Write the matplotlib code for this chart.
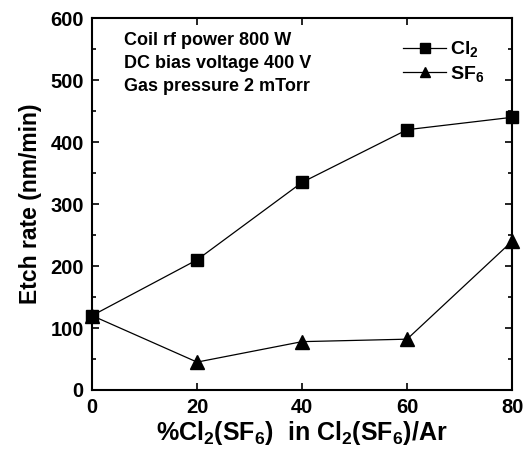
import matplotlib
matplotlib.use("Agg")
import matplotlib.pyplot as plt
from matplotlib.ticker import MultipleLocator

plt.rcParams['font.family'] = ['Liberation Sans', 'DejaVu Sans']
plt.rcParams['font.weight'] = 'bold'
plt.rcParams['axes.labelweight'] = 'bold'
plt.rcParams['mathtext.fontset'] = 'custom'
plt.rcParams['mathtext.rm'] = 'Liberation Sans:bold'
plt.rcParams['mathtext.it'] = 'Liberation Sans:bold'
plt.rcParams['mathtext.bf'] = 'Liberation Sans:bold'

# gas fraction (%)
fraction = [0, 20, 40, 60, 80]
# etch rate (nm/min)
cl2_rate = [120, 210, 335, 420, 440]
sf6_rate = [120, 45, 78, 82, 240]

cond_lines = ["Coil rf power 800 W", "DC bias voltage 400 V", "Gas pressure 2 mTorr"]

fig = plt.figure(figsize=(5.29, 4.54), dpi=100)
ax = fig.add_axes([0.174, 0.141, 0.794, 0.819])

ax.plot(fraction, cl2_rate, color='black', lw=0.9, marker='s', ms=9,
        clip_on=False, zorder=3, label=r'Cl$_2$')
ax.plot(fraction, sf6_rate, color='black', lw=0.9, marker='^', ms=10,
        clip_on=False, zorder=3, label=r'SF$_6$')

ax.set_xlim(0, 80)
ax.set_ylim(0, 600)
ax.set_xticks(fraction)
ax.yaxis.set_major_locator(MultipleLocator(100))
ax.yaxis.set_minor_locator(MultipleLocator(50))
ax.tick_params(which='both', direction='in', top=True, right=True,
               labelsize=14.5, width=1.2)
ax.tick_params(which='major', length=5, pad=6)
ax.tick_params(which='minor', length=3)
for lbl in ax.get_xticklabels() + ax.get_yticklabels():
    lbl.set_fontweight('bold')
for s in ax.spines.values():
    s.set_linewidth(1.5)

ax.set_xlabel(r'%Cl$_2$(SF$_6$)  in Cl$_2$(SF$_6$)/Ar', fontsize=18, labelpad=1)
ax.set_ylabel('Etch rate (nm/min)', fontsize=16.5, labelpad=6)

for i, t in enumerate(cond_lines):
    ax.text(0.075, 0.94 - i * 0.062, t, transform=ax.transAxes,
            fontsize=13, va='center', ha='left')

leg = ax.legend(loc='upper right', bbox_to_anchor=(0.975, 0.99), frameon=False,
                fontsize=14, handlelength=2.2, handletextpad=0.2,
                labelspacing=0.25, markerscale=0.75)

fig.savefig("out.png", dpi=100)
